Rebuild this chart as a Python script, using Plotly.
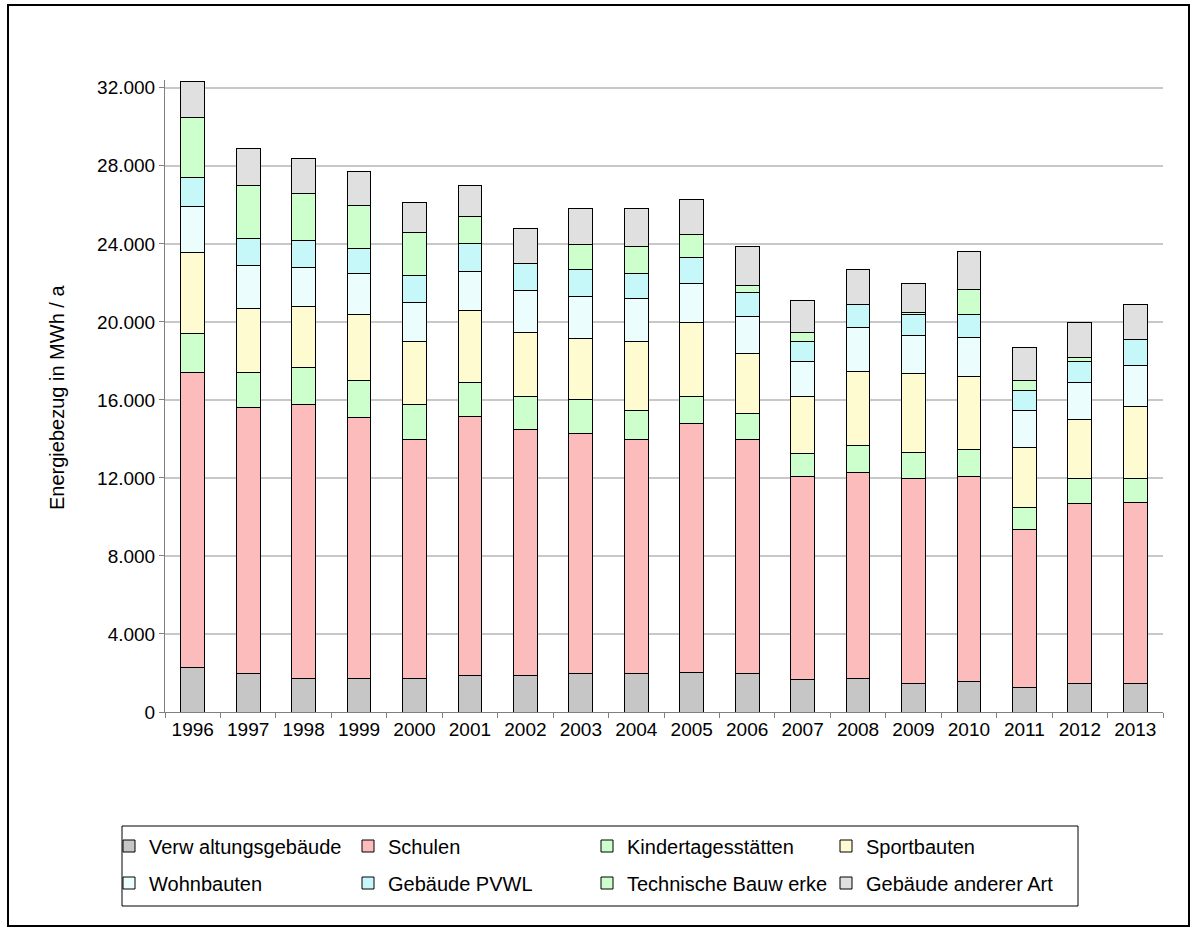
import plotly.graph_objects as go

years = ["1996", "1997", "1998", "1999", "2000", "2001", "2002", "2003", "2004",
         "2005", "2006", "2007", "2008", "2009", "2010", "2011", "2012", "2013"]

verwaltung = [2260, 1980, 1740, 1740, 1740, 1860, 1860, 1970, 1970, 2050, 1970, 1660, 1740, 1470, 1560, 1270, 1470, 1470]
schulen = [15120, 13610, 14040, 13340, 12240, 13300, 12600, 12300, 12010, 12720, 12010, 10410, 10520, 10510, 10510, 8100, 9200, 9290]
kitas = [2020, 1790, 1890, 1890, 1800, 1730, 1730, 1730, 1490, 1400, 1300, 1190, 1400, 1300, 1400, 1110, 1310, 1220]
sport = [4170, 3310, 3120, 3410, 3190, 3710, 3280, 3160, 3520, 3810, 3110, 2910, 3810, 4090, 3710, 3090, 2990, 3700]
wohn = [2330, 2200, 2000, 2120, 2020, 1980, 2120, 2140, 2210, 2000, 1900, 1810, 2220, 1910, 2000, 1900, 1900, 2100]
pvwl = [1500, 1400, 1400, 1280, 1400, 1420, 1400, 1380, 1300, 1300, 1200, 1010, 1200, 1100, 1200, 1030, 1110, 1310]
technik = [3100, 2710, 2410, 2200, 2210, 1400, 0, 1300, 1380, 1200, 390, 480, 0, 120, 1300, 470, 210, 0]
andere = [1800, 1900, 1790, 1730, 1500, 1590, 1800, 1830, 1930, 1810, 1980, 1620, 1790, 1480, 1910, 1710, 1790, 1800]

series_names = ["Verw altungsgebäude", "Schulen", "Kindertagesstätten", "Sportbauten",
                "Wohnbauten", "Gebäude PVWL", "Technische Bauw erke", "Gebäude anderer Art"]
series_values = [verwaltung, schulen, kitas, sport, wohn, pvwl, technik, andere]
series_colors = ["#C6C6C6", "#FCBCBC", "#CCFFCC", "#FEFBD0",
                 "#EBFDFD", "#C6F8FA", "#CCFFCC", "#E0E0E0"]

y_title = "Energiebezug in MWh / a"
tick_vals = [0, 4000, 8000, 12000, 16000, 20000, 24000, 28000, 32000]

FONT = "Arial, Liberation Sans, sans-serif"
FS = 19
FS_LEG = 20

# pixel geometry of the plot area
W, H = 1197, 932
L, R, T, B = 165, 34, 80, 220
PW, PH = W - L - R, H - T - B


def px_x(p):
    return (p - L) / PW


def px_y(p):
    return (H - B - p) / PH


fig = go.Figure()
for i, (name, vals, col) in enumerate(zip(series_names, series_values, series_colors)):
    fig.add_trace(go.Bar(
        x=years, y=vals, name=name,
        marker=dict(color=col, line=dict(color="#000000", width=1)),
        legend="legend" if i < 4 else "legend2",
    ))

legend_common = dict(
    orientation="h", xanchor="left", yanchor="middle",
    entrywidth=194, entrywidthmode="pixels",
    bgcolor="rgba(0,0,0,0)", borderwidth=0,
    font=dict(family=FONT, size=FS_LEG, color="#000000"),
    traceorder="normal", itemclick=False, itemdoubleclick=False,
)

fig.update_layout(
    width=W, height=H,
    margin=dict(l=L, r=R, t=T, b=B, autoexpand=False),
    paper_bgcolor="#FFFFFF", plot_bgcolor="#FFFFFF",
    barmode="stack", bargap=0.57,
    separators=",.",
    font=dict(family=FONT, size=FS, color="#000000"),
    legend=dict(x=px_x(109), y=px_y(846), **legend_common),
    legend2=dict(x=px_x(109), y=px_y(883), **legend_common),
    showlegend=True,
    xaxis=dict(
        type="category", range=[-0.5, len(years) - 0.5],
        showline=True, linecolor="#808080", linewidth=1,
        ticks="outside", tickson="boundaries", ticklen=5, tickcolor="#808080",
        showgrid=False, tickfont=dict(family=FONT, size=FS, color="#000000"),
        fixedrange=True,
    ),
    yaxis=dict(
        range=[0, 32400], tickvals=tick_vals, tickformat=",d",
        showline=True, linecolor="#808080", linewidth=1,
        ticks="outside", ticklen=5, tickcolor="#808080",
        showgrid=True, gridcolor="#C8C8C8", gridwidth=1.5,
        zeroline=False, tickfont=dict(family=FONT, size=FS, color="#000000"),
        fixedrange=True,
    ),
    annotations=[dict(
        text=y_title, xref="paper", yref="paper",
        x=px_x(57), y=px_y(398), textangle=-90, showarrow=False,
        font=dict(family=FONT, size=20, color="#000000"),
        xanchor="center", yanchor="middle",
    )],
    shapes=[
        dict(type="rect", xref="paper", yref="paper",
             x0=px_x(122), x1=px_x(1078), y0=px_y(906), y1=px_y(826),
             line=dict(color="#000000", width=1), fillcolor="rgba(0,0,0,0)", layer="below"),
        dict(type="rect", xref="paper", yref="paper",
             x0=px_x(8), x1=px_x(1189), y0=px_y(926), y1=px_y(5),
             line=dict(color="#000000", width=2), fillcolor="rgba(0,0,0,0)", layer="below"),
    ],
)

fig.write_html(
    "out.html",
    config={"displayModeBar": False},
    post_script="document.body.style.margin='0';document.body.style.overflow='hidden';",
)
